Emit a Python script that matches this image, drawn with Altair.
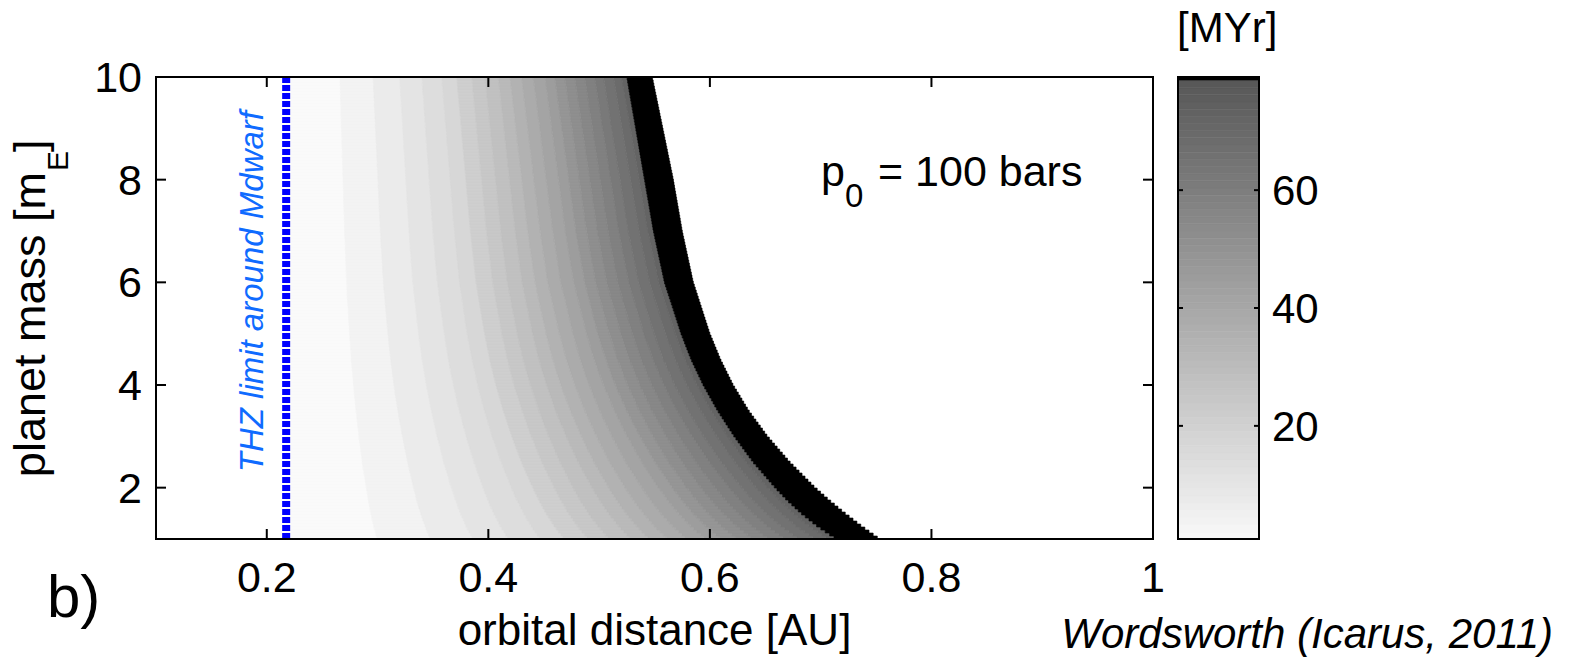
import altair as alt
import numpy as np
import pandas as pd

FONT = "Liberation Sans"

# ---- axes -------------------------------------------------------------
x_domain = [0.1, 1.0]
y_domain = [1.0, 10.0]
x_ticks = [0.2, 0.4, 0.6, 0.8, 1.0]
x_tick_labels = ["0.2", "0.4", "0.6", "0.8", "1"]
y_ticks = [2, 4, 6, 8, 10]
y_tick_labels = ["2", "4", "6", "8", "10"]
cbar_domain = [0.8, 79.2]
cbar_ticks = [20, 40, 60]
cbar_tick_labels = ["20", "40", "60"]
cbar_black_from = 78.6

# ---- data -------------------------------------------------------------
thz_limit = 0.2175  # THZ limit around M dwarf [AU]

# edges of the black (saturated) band at these planet masses
mass_pts    = [1.0, 1.25, 1.5, 1.75, 2.0, 2.5, 3.0, 3.5, 4.0, 4.5, 5.0, 6.0, 7.0, 8.0, 9.0, 10.0]
black_inner = [0.714, 0.697, 0.6825, 0.670, 0.659, 0.639, 0.622, 0.607, 0.594, 0.583, 0.574,
               0.559, 0.549, 0.541, 0.533, 0.525]
black_outer = [0.753, 0.737, 0.722, 0.708, 0.695, 0.672, 0.652, 0.635, 0.621, 0.6095, 0.600,
               0.585, 0.575, 0.567, 0.5575, 0.548]

# contour band boundaries read along the top edge (m = 10)
contour_top = [0.266, 0.296, 0.320, 0.340, 0.358, 0.3715, 0.385, 0.397, 0.409, 0.4196,
               0.430, 0.4406, 0.4512, 0.460, 0.469, 0.478, 0.487, 0.496, 0.504, 0.513, 0.5204]
# value [MYr] of each band (left to right)
band_values = [0, 3.5, 7, 10.5, 14, 17, 20.5, 24, 27.5, 31, 34.5, 38, 41.5, 45, 48,
               51.5, 55, 58.5, 62, 65.5, 69, 72.5]
contour_pivot = 0.21  # contours scale about this distance with mass

# ---- build the gridded field -------------------------------------------
n_rows = 154
dm = (y_domain[1] - y_domain[0]) / n_rows
top_inner = black_inner[-1]
field_rows, black_rows = [], []
for i in range(n_rows):
    m0 = y_domain[0] + i * dm
    m1 = m0 + dm
    mc = 0.5 * (m0 + m1)
    inner = float(np.interp(mc, mass_pts, black_inner))
    outer = float(np.interp(mc, mass_pts, black_outer))
    s = (inner - contour_pivot) / (top_inner - contour_pivot)
    edges = [thz_limit] + [contour_pivot + (c - contour_pivot) * s for c in contour_top] + [inner]
    for k, v in enumerate(band_values):
        field_rows.append(dict(x=edges[k], x2=edges[k + 1], y=m0, y2=m1, v=v))
    black_rows.append(dict(x=inner, x2=outer, y=m0, y2=m1))
field_df = pd.DataFrame(field_rows)
black_df = pd.DataFrame(black_rows)

cb_edges = np.linspace(cbar_domain[0], cbar_black_from, 65)
cbar_df = pd.DataFrame(dict(x=0.0, x2=1.0, y=cb_edges[:-1], y2=cb_edges[1:],
                            v=0.5 * (cb_edges[:-1] + cb_edges[1:])))

# ---- scales ------------------------------------------------------------
W, H = 1103, 462
xs = alt.Scale(domain=x_domain, range=[0, 997], nice=False, zero=False)
ys = alt.Scale(domain=y_domain, nice=False, zero=False)
cxs = alt.Scale(domain=[0, 1], range=[1022, 1103], nice=False, zero=False)
cys = alt.Scale(domain=cbar_domain, nice=False, zero=False)
cs = alt.Scale(domain=[0, 80], range=["#fafafa", "#545454"], interpolate="rgb")


def X(f, sc=xs):
    return alt.X(f, scale=sc, axis=None)


def Y(f, sc=ys):
    return alt.Y(f, scale=sc, axis=None)


field = alt.Chart(field_df).mark_rect(strokeWidth=0.6).encode(
    x=X("x:Q"), x2="x2:Q", y=Y("y:Q"), y2="y2:Q",
    color=alt.Color("v:Q", scale=cs, legend=None),
    stroke=alt.Stroke("v:Q", scale=cs, legend=None),
)

black = alt.Chart(black_df).mark_rect(color="black", stroke="black", strokeWidth=0.6).encode(
    x=X("x:Q"), x2="x2:Q", y=Y("y:Q"), y2="y2:Q")

thz_df = pd.DataFrame(dict(x=[thz_limit], y=[y_domain[0]], y2=[y_domain[1]]))
blue = alt.Chart(thz_df).mark_rule(color="#0000ff", strokeWidth=8, strokeDash=[6, 2]).encode(
    x=X("x:Q"), y=Y("y:Q"), y2="y2:Q")

frame_df = pd.DataFrame(dict(x=[x_domain[0]], x2=[x_domain[1]], y=[y_domain[0]], y2=[y_domain[1]]))
box = alt.Chart(frame_df).mark_rect(fill=None, filled=False, stroke="black", strokeWidth=2).encode(
    x=X("x:Q"), x2="x2:Q", y=Y("y:Q"), y2="y2:Q")

TL = 10
xt_df = pd.DataFrame(dict(t=x_ticks, lab=x_tick_labels, lo=y_domain[0], hi=y_domain[1]))
yt_df = pd.DataFrame(dict(t=y_ticks, lab=y_tick_labels, lo=x_domain[0], hi=x_domain[1]))
tick_b = alt.Chart(xt_df).mark_rule(color="black", strokeWidth=2, y2Offset=-TL).encode(
    x=X("t:Q"), y=Y("lo:Q"), y2="lo:Q")
tick_t = alt.Chart(xt_df).mark_rule(color="black", strokeWidth=2, y2Offset=TL).encode(
    x=X("t:Q"), y=Y("hi:Q"), y2="hi:Q")
tick_l = alt.Chart(yt_df).mark_rule(color="black", strokeWidth=2, x2Offset=TL).encode(
    y=Y("t:Q"), x=X("lo:Q"), x2="lo:Q")
tick_r = alt.Chart(yt_df).mark_rule(color="black", strokeWidth=2, x2Offset=-TL).encode(
    y=Y("t:Q"), x=X("hi:Q"), x2="hi:Q")

xlab = alt.Chart(xt_df).mark_text(font=FONT, fontSize=43, align="center", baseline="alphabetic",
                                  dy=53, color="black").encode(
    x=X("t:Q"), y=Y("lo:Q"), text="lab:N")
ylab = alt.Chart(yt_df).mark_text(font=FONT, fontSize=43, align="right", baseline="alphabetic",
                                  dx=-14, dy=15, color="black").encode(
    x=X("lo:Q"), y=Y("t:Q"), text="lab:N")


def txt(label, px, py, size, align="left", angle=0, color="black", style="normal"):
    mk = dict(font=FONT, fontSize=size, align=align, baseline="alphabetic", color=color,
              fontStyle=style)
    if angle:
        mk["angle"] = angle
    return alt.Chart(pd.DataFrame({"t": [label]})).mark_text(**mk).encode(
        text="t:N", x=alt.value(px), y=alt.value(py))


thz_text = alt.Chart(pd.DataFrame(dict(x=[thz_limit], y=[2.3], t=["THZ limit around Mdwarf"]))).mark_text(
    font=FONT, fontSize=33, fontStyle="italic", color="#0f6bff", align="left",
    baseline="alphabetic", angle=270, dy=-23).encode(
    x=X("x:Q"), y=Y("y:Q"), text="t:N")

texts = [
    txt("orbital distance [AU]", 498.5, 568, 44, align="center"),
    txt("planet mass [m", -111, 95, 45, align="right", angle=270),
    txt("E", -88, 94, 30, align="left", angle=270),
    txt("]", -111, 75, 45, align="left", angle=270),
    txt("b)", -109, 540, 60),
    txt("p", 665, 109, 43),
    txt("0", 689, 130, 33),
    txt("= 100 bars", 722, 109, 43),
    txt("Wordsworth (Icarus, 2011)", 1397, 571, 42, align="right", style="italic"),
]

main = alt.layer(field, black, blue, box, tick_b, tick_t, tick_l, tick_r, xlab, ylab, thz_text, *texts)

# ---- colour bar ----------------------------------------------------------
cbar = alt.Chart(cbar_df).mark_rect(strokeWidth=0.6).encode(
    x=X("x:Q", cxs), x2="x2:Q", y=Y("y:Q", cys), y2="y2:Q",
    color=alt.Color("v:Q", scale=cs, legend=None),
    stroke=alt.Stroke("v:Q", scale=cs, legend=None),
)
cb_black_df = pd.DataFrame(dict(x=[0.0], x2=[1.0], y=[cbar_black_from], y2=[cbar_domain[1]]))
cbar_black = alt.Chart(cb_black_df).mark_rect(color="black").encode(
    x=X("x:Q", cxs), x2="x2:Q", y=Y("y:Q", cys), y2="y2:Q")
cb_frame_df = pd.DataFrame(dict(x=[0.0], x2=[1.0], y=[cbar_domain[0]], y2=[cbar_domain[1]]))
cbar_frame = alt.Chart(cb_frame_df).mark_rect(fill=None, filled=False, stroke="black", strokeWidth=2).encode(
    x=X("x:Q", cxs), x2="x2:Q", y=Y("y:Q", cys), y2="y2:Q")
ct_df = pd.DataFrame(dict(t=cbar_ticks, lab=cbar_tick_labels, lo=0.0, hi=1.0))
ctick_l = alt.Chart(ct_df).mark_rule(color="black", strokeWidth=2, x2Offset=5).encode(
    y=Y("t:Q", cys), x=X("lo:Q", cxs), x2="lo:Q")
ctick_r = alt.Chart(ct_df).mark_rule(color="black", strokeWidth=2, x2Offset=-5).encode(
    y=Y("t:Q", cys), x=X("hi:Q", cxs), x2="hi:Q")
clab = alt.Chart(ct_df).mark_text(font=FONT, fontSize=42, align="left", baseline="alphabetic",
                                  dx=13, dy=15, color="black").encode(
    x=X("hi:Q", cxs), y=Y("t:Q", cys), text="lab:N")
cb_title = txt("[MYr]", 1021, -35, 42)

cbar_layer = alt.layer(cbar, cbar_black, cbar_frame, ctick_l, ctick_r, clab, cb_title)

chart = alt.layer(main, cbar_layer).resolve_scale(
    x="independent", y="independent"
).properties(
    width=W, height=H,
    padding={"left": 156, "top": 77, "right": 1572 - 156 - W, "bottom": 665 - 77 - H},
    autosize=alt.AutoSizeParams(type="none"),
    background="white",
).configure_view(stroke=None)

chart.save("out.html", embed_options={"renderer": "svg", "actions": False})
